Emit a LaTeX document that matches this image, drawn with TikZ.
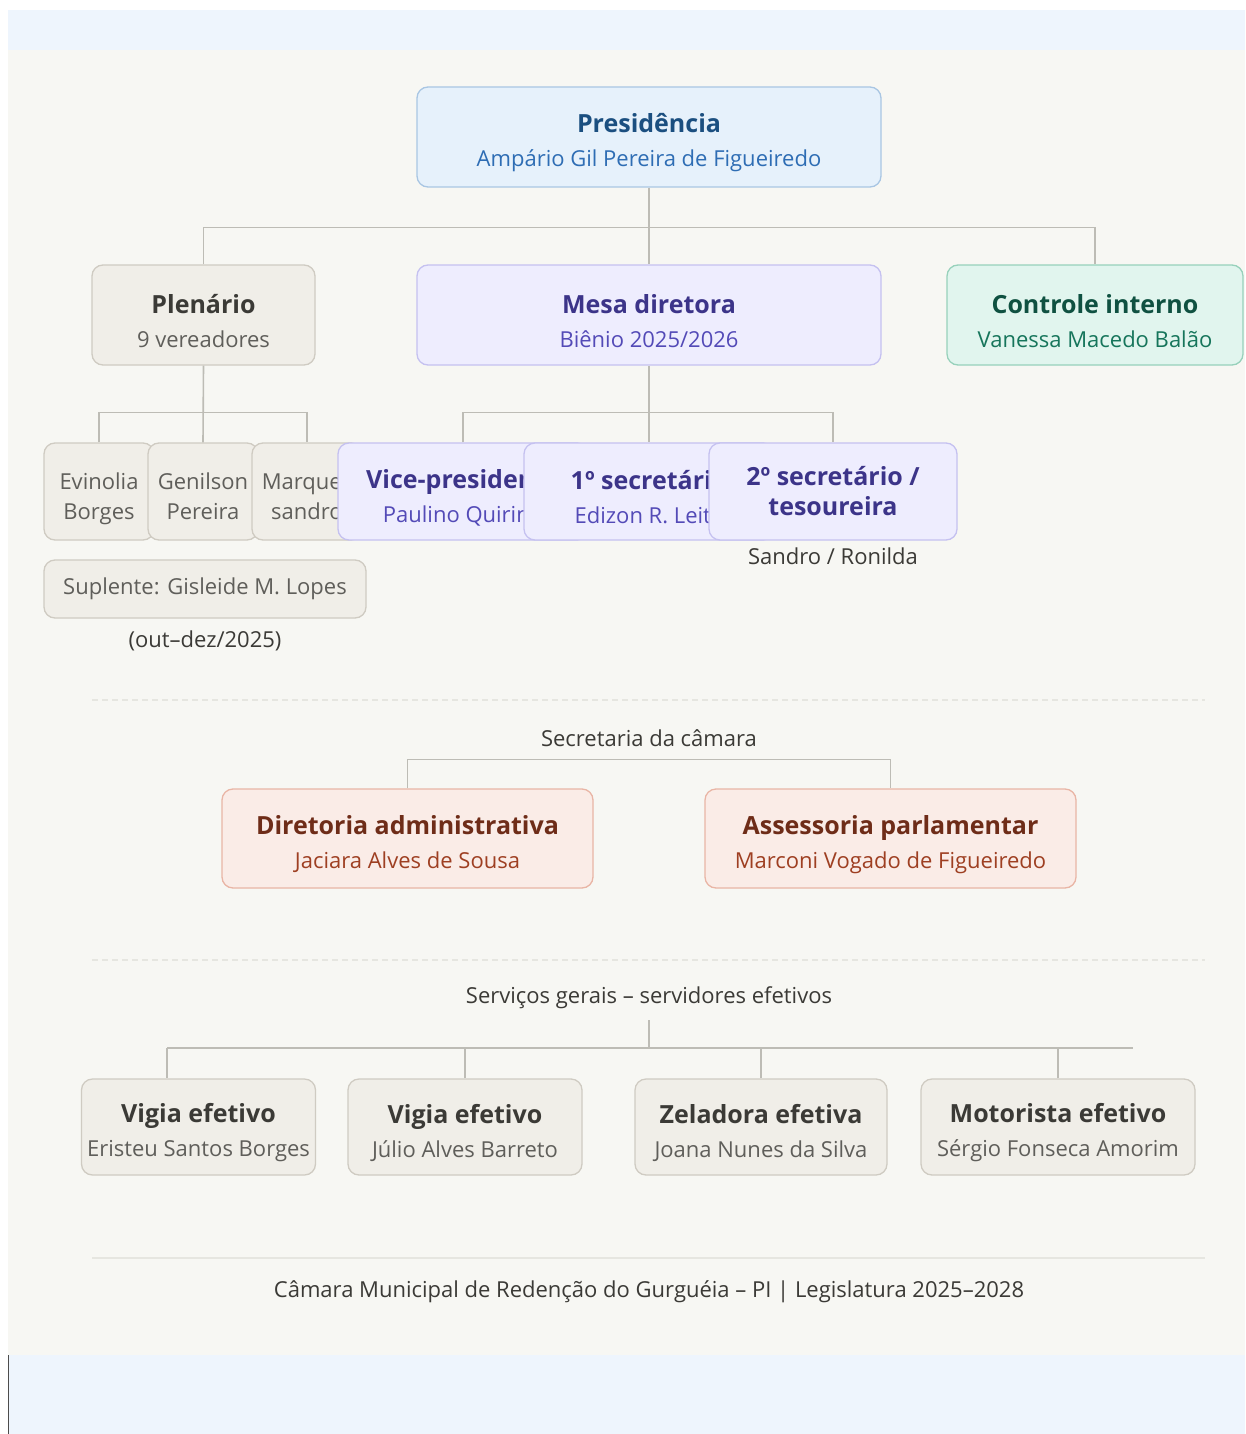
\documentclass[tikz,border=0pt]{standalone}
\usepackage{fontspec}
\setmainfont{Open Sans}
\usepackage{tikz}
\usetikzlibrary{positioning}

\definecolor{paper}{HTML}{F7F7F3}
\definecolor{band}{HTML}{EEF5FD}
\definecolor{wire}{HTML}{BDBCB5}
\definecolor{sepgrey}{HTML}{E6E6E0}
\definecolor{presfill}{HTML}{E6F1FB}
\definecolor{presdraw}{HTML}{A9C6E3}
\definecolor{prestitle}{HTML}{1B4F80}
\definecolor{presname}{HTML}{2E6DB4}
\definecolor{greyfill}{HTML}{F0EEE8}
\definecolor{greydraw}{HTML}{CFCBC2}
\definecolor{greytitle}{HTML}{3B3A36}
\definecolor{greyname}{HTML}{5F5E5A}
\definecolor{mesafill}{HTML}{EEEDFE}
\definecolor{mesadraw}{HTML}{C5C1F0}
\definecolor{mesatitle}{HTML}{3C3489}
\definecolor{mesaname}{HTML}{534AB7}
\definecolor{ctrlfill}{HTML}{E1F5EE}
\definecolor{ctrldraw}{HTML}{97D1BB}
\definecolor{ctrltitle}{HTML}{0F5141}
\definecolor{ctrlname}{HTML}{16755B}
\definecolor{secfill}{HTML}{FAECE7}
\definecolor{secdraw}{HTML}{E9B5A5}
\definecolor{sectitle}{HTML}{6E2C18}
\definecolor{secname}{HTML}{9E3F22}

% titulo da caixa (com apoio para descer o texto)
\newcommand{\boxtitle}[2]{\rule{0pt}{31pt}{\color{#1}\bfseries\fontsize{25}{25}\selectfont #2}}
\newcommand{\boxhead}[2]{{\color{#1}\bfseries\fontsize{25}{25}\selectfont #2}}
\newcommand{\lowstrut}{\rule{0pt}{32pt}}
\newcommand{\lowdepth}{\rule[-6pt]{0pt}{6pt}}

\tikzset{
  box/.style={draw, rounded corners=11pt, line width=1.3pt, align=center,
    inner sep=0pt, minimum height=100pt, font=\fontsize{22}{34}\selectfont},
  presbox/.style={box, fill=presfill, draw=presdraw, text=presname},
  greybox/.style={box, fill=greyfill, draw=greydraw, text=greyname},
  mesabox/.style={box, fill=mesafill, draw=mesadraw, text=mesaname},
  ctrlbox/.style={box, fill=ctrlfill, draw=ctrldraw, text=ctrlname},
  secbox/.style={box, fill=secfill, draw=secdraw, text=secname},
  conn/.style={draw=wire, line width=1.6pt},
  sepline/.style={draw=sepgrey, line width=1.5pt, dash pattern=on 6pt off 4pt},
  caption/.style={text=greytitle, font=\fontsize{22}{26}\selectfont}
}

\begin{document}
\begin{tikzpicture}[x=1pt,y=-1pt]

% Fundo
\useasboundingbox (0,0) rectangle (1245,1434);
\fill[white] (0,0) rectangle (1245,1434);
\fill[band] (8,10) rectangle (1245,50);
\fill[paper] (8,50) rectangle (1245,1355);
\fill[band] (8,1355) rectangle (1245,1434);
\draw[black!70, line width=1pt] (8,1355) -- (8,1434);

% Presidencia
\node[presbox, minimum width=464pt] (pres) at (649,137)
  {\boxtitle{prestitle}{Presidência}\\Ampário Gil Pereira de Figueiredo};

% Segundo nivel
\node[greybox, minimum width=223pt] (plen) at (203.5,315)
  {\boxtitle{greytitle}{Plenário}\\9 vereadores};
\node[mesabox, minimum width=464pt] (mesa) at (649,315)
  {\boxtitle{mesatitle}{Mesa diretora}\\Biênio 2025/2026};
\node[ctrlbox, minimum width=296pt] (ctrl) at (1095,315)
  {\boxtitle{ctrltitle}{Controle interno}\\Vanessa Macedo Balão};
\draw[conn] (pres.south) -- (mesa.north);
\draw[conn] (plen.north) -- ++(0,-37) -| (ctrl.north);

% Vereadores
\node[greybox, minimum width=110pt, minimum height=97pt] (ver1) at (99,491.5)
  {\lowstrut Evinolia\\[-4pt]Borges\lowdepth};
\node[greybox, minimum width=110pt, minimum height=97pt] (ver2) at (203,491.5)
  {\lowstrut Genilson\\[-4pt]Pereira\lowdepth};
\node[greybox, minimum width=110pt, minimum height=97pt] (ver3) at (307,491.5)
  {\lowstrut Marques\\[-4pt]sandro\lowdepth};
\draw[conn] (plen.south) -- (ver2.north);
\draw[conn] (ver1.north) -- ++(0,-30) -| (ver3.north);

% Mesa
\node[mesabox, minimum width=250pt, minimum height=97pt] (vice) at (463,491.5)
  {\boxtitle{mesatitle}{Vice-presidente}\\Paulino Quirino};
\node[mesabox, minimum width=250pt, minimum height=97pt] (sec1) at (649,491.5)
  {\boxtitle{mesatitle}{1º secretário}\\Edizon R. Leite};
\node[mesabox, minimum width=248pt, minimum height=97pt] (sec2) at (833,491.5)
  {\boxhead{mesatitle}{2º secretário /}\\[-4pt]\boxhead{mesatitle}{tesoureira}};
\draw[conn] (mesa.south) -- (sec1.north);
\draw[conn] (vice.north) -- ++(0,-30) -| (sec2.north);
\node[caption] (sandro) at (833,556) {Sandro / Ronilda};

% Suplente
\node[greybox, minimum width=322pt, minimum height=58pt] (supl) at (205,589)
  {Suplente: Gisleide M. Lopes};
\node[caption] (periodo) at (205,641) {(out–dez/2025)};

% Secretaria
\draw[sepline] (92,700) -- (1205,700);
\node[caption] (secret) at (649,738) {Secretaria da câmara};
\node[secbox, minimum width=371pt, minimum height=99pt] (dir) at (407.5,838.5)
  {\boxtitle{sectitle}{Diretoria administrativa}\\Jaciara Alves de Sousa};
\node[secbox, minimum width=371pt, minimum height=99pt] (ass) at (890.5,838.5)
  {\boxtitle{sectitle}{Assessoria parlamentar}\\Marconi Vogado de Figueiredo};
\draw[conn] (dir.north) -- ++(0,-29) -| (ass.north);

% Servicos gerais
\draw[sepline] (92,960) -- (1205,960);
\node[caption] (servicos) at (649,998) {Serviços gerais – servidores efetivos};
\node[greybox, minimum width=234pt, minimum height=96pt] (vig1) at (198.5,1127)
  {\boxtitle{greytitle}{Vigia efetivo}\\Eristeu Santos Borges};
\node[greybox, minimum width=234pt, minimum height=96pt] (vig2) at (465,1127)
  {\boxtitle{greytitle}{Vigia efetivo}\\Júlio Alves Barreto};
\node[greybox, minimum width=252pt, minimum height=96pt] (zel) at (761,1127)
  {\boxtitle{greytitle}{Zeladora efetiva}\\Joana Nunes da Silva};
\node[greybox, minimum width=274pt, minimum height=96pt] (mot) at (1058,1127)
  {\boxtitle{greytitle}{Motorista efetivo}\\Sérgio Fonseca Amorim};
\coordinate (srvtop) at (649,1020);
\coordinate (srvbus) at (649,1048);
\coordinate (srvleft) at (167,1048);
\coordinate (srvright) at (1133,1048);
\draw[conn] (srvtop) -- (srvbus);
\draw[conn] (srvleft) -- (srvright);
\draw[conn] (srvleft) -- (srvleft |- vig1.north);
\draw[conn] (vig2.north) -- (vig2.north |- srvbus);
\draw[conn] (zel.north) -- (zel.north |- srvbus);
\draw[conn] (mot.north) -- (mot.north |- srvbus);

% Rodape
\draw[sepgrey, line width=1.5pt] (92,1258) -- (1205,1258);
\node[caption] (rodape) at (649,1292)
  {Câmara Municipal de Redenção do Gurguéia – PI | Legislatura 2025–2028};

\end{tikzpicture}
\end{document}
